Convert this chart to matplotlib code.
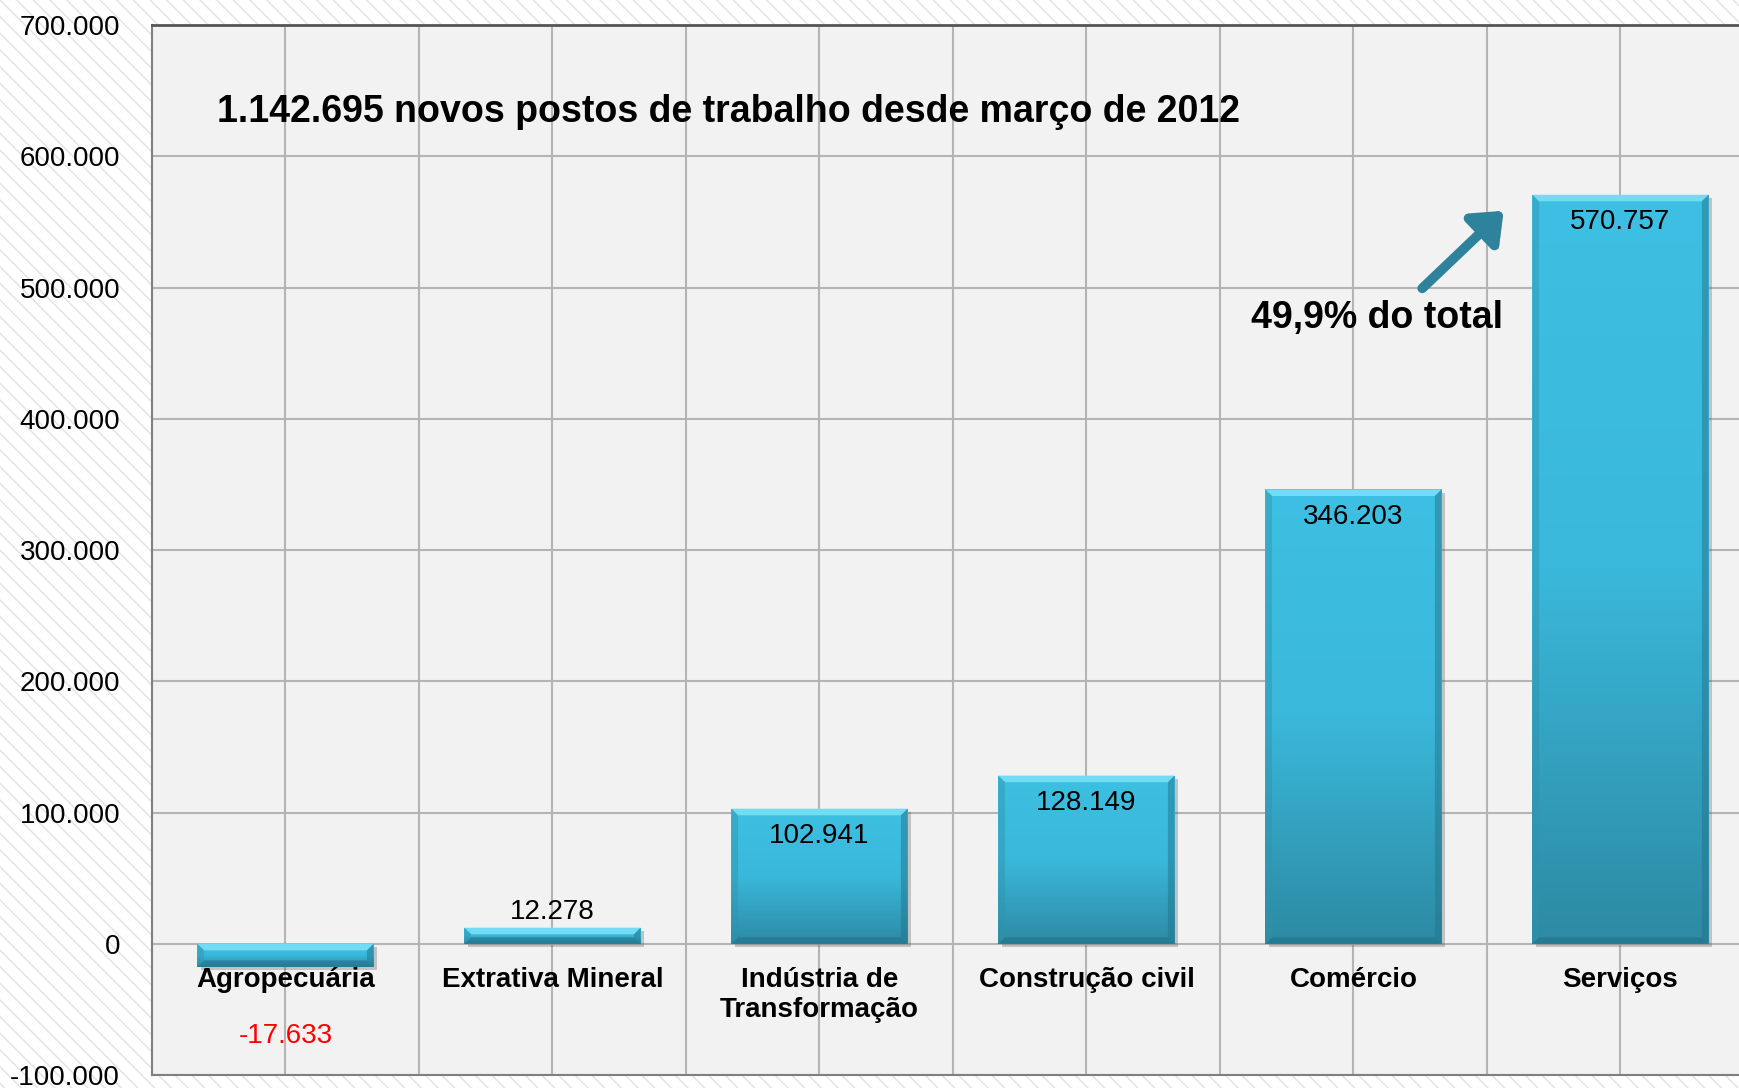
import numpy as np
import matplotlib
matplotlib.use('Agg')
import matplotlib.pyplot as plt
from matplotlib.patches import Rectangle, Polygon, FancyArrowPatch
from matplotlib.ticker import FuncFormatter, MultipleLocator
import matplotlib.patheffects as pe

plt.rcParams['font.family'] = ['Liberation Sans', 'DejaVu Sans']
plt.rcParams['hatch.linewidth'] = 1.0

# dados
setores = ['Agropecuária', 'Extrativa Mineral', 'Indústria de\nTransformação',
           'Construção civil', 'Comércio', 'Serviços']
saldo = [-17633, 12278, 102941, 128149, 346203, 570757]
rotulos = ['-17.633', '12.278', '102.941', '128.149', '346.203', '570.757']
titulo = '1.142.695 novos postos de trabalho desde março de 2012'
nota = '49,9% do total'

fig = plt.figure(figsize=(17.39, 10.88), dpi=100)
fig.patches.append(Rectangle((0, 0), 1, 1, transform=fig.transFigure, facecolor='white',
                             edgecolor='#e2e2e2', hatch='\\\\', lw=0, zorder=-10))
ax = fig.add_axes([0.0874, 0.0119, 0.9212, 0.965])
ax.set_facecolor('#f2f2f2')

x = np.arange(len(setores))
w = 0.66
ax.set_xlim(-0.5, len(setores) - 0.5)
ax.set_ylim(-100000, 700000)

# grade
for gx in np.arange(-0.5, len(setores), 0.5):
    ax.axvline(gx, color='#b4b4b4', lw=1.5, zorder=1)
ax.yaxis.set_major_locator(MultipleLocator(100000))
ax.grid(axis='y', color='#b4b4b4', lw=1.5, zorder=1)
ax.set_axisbelow(True)
ax.set_xticks([])
ax.yaxis.set_major_formatter(FuncFormatter(lambda v, p: f'{int(v):,}'.replace(',', '.')))
ax.tick_params(axis='y', length=0, pad=23, labelsize=20)
for s in ['left', 'bottom']:
    ax.spines[s].set_color('#808080')
    ax.spines[s].set_linewidth(1.5)
ax.spines['top'].set_color('#555555')
ax.spines['top'].set_linewidth(2)
ax.spines['right'].set_visible(False)

grad = np.linspace(0, 1, 256).reshape(-1, 1)
cmap = matplotlib.colors.LinearSegmentedColormap.from_list('b', ['#2d8aa3', '#3ab8db', '#3dc0e3'])
bx, by = 0.025, 5000
for xi, v in zip(x, saldo):
    y0, y1 = min(0, v), max(0, v)
    # sombra
    ax.add_patch(Rectangle((xi - w / 2 + 0.012, y0 - 2500), w, y1 - y0, facecolor='#555555',
                           alpha=0.3, lw=0, zorder=2))
    bar = Rectangle((xi - w / 2, y0), w, y1 - y0, facecolor='none', lw=0, zorder=3)
    ax.add_patch(bar)
    im = ax.imshow(grad, extent=[xi - w / 2, xi + w / 2, y0, y1], origin='lower',
                   cmap=cmap, aspect='auto', zorder=3)
    im.set_clip_path(bar)
    l, r = xi - w / 2, xi + w / 2
    ax.add_patch(Polygon([[l, y1], [r, y1], [r - bx, y1 - by], [l + bx, y1 - by]],
                         facecolor='#72dcf5', lw=0, zorder=4))
    ax.add_patch(Polygon([[l, y0], [l, y1], [l + bx, y1 - by], [l + bx, y0 + by]],
                         facecolor='#2f93ad', alpha=0.45, lw=0, zorder=4))
    ax.add_patch(Polygon([[r, y0], [r, y1], [r - bx, y1 - by], [r - bx, y0 + by]],
                         facecolor='#23758c', alpha=0.5, lw=0, zorder=4))
    ax.add_patch(Polygon([[l, y0], [r, y0], [r - bx, y0 + by], [l + bx, y0 + by]],
                         facecolor='#22728a', alpha=0.6, lw=0, zorder=4))

# rótulos de valores
for xi, v, t in zip(x, saldo, rotulos):
    if v < 0:
        ax.text(xi, -70000, t, ha='center', va='center', fontsize=20, color='red', zorder=5)
    elif v < 50000:
        ax.text(xi, v + 12000, t, ha='center', va='center', fontsize=20, color='black', zorder=5)
    else:
        ax.text(xi, v - 21000, t, ha='center', va='center', fontsize=20, color='black', zorder=5)

for xi, s in zip(x, setores):
    ax.text(xi, -17500, s, ha='center', va='top', fontsize=20, fontweight='bold',
            linespacing=1.2, zorder=5)

ax.text(-0.257, 634000, titulo, ha='left', va='center', fontsize=27, fontweight='bold', zorder=5)
ax.text(4.56, 476800, nota, ha='right', va='center', fontsize=27, fontweight='bold', zorder=5)

seta = FancyArrowPatch((4.25, 498000), (4.57, 560000), arrowstyle='-|>,head_length=0.55,head_width=0.45',
                       mutation_scale=30, lw=7, color='#2e829c', zorder=5,
                       path_effects=[pe.SimplePatchShadow(offset=(3, -3), alpha=0.3), pe.Normal()])
ax.add_patch(seta)

fig.savefig('out.png', dpi=100)
